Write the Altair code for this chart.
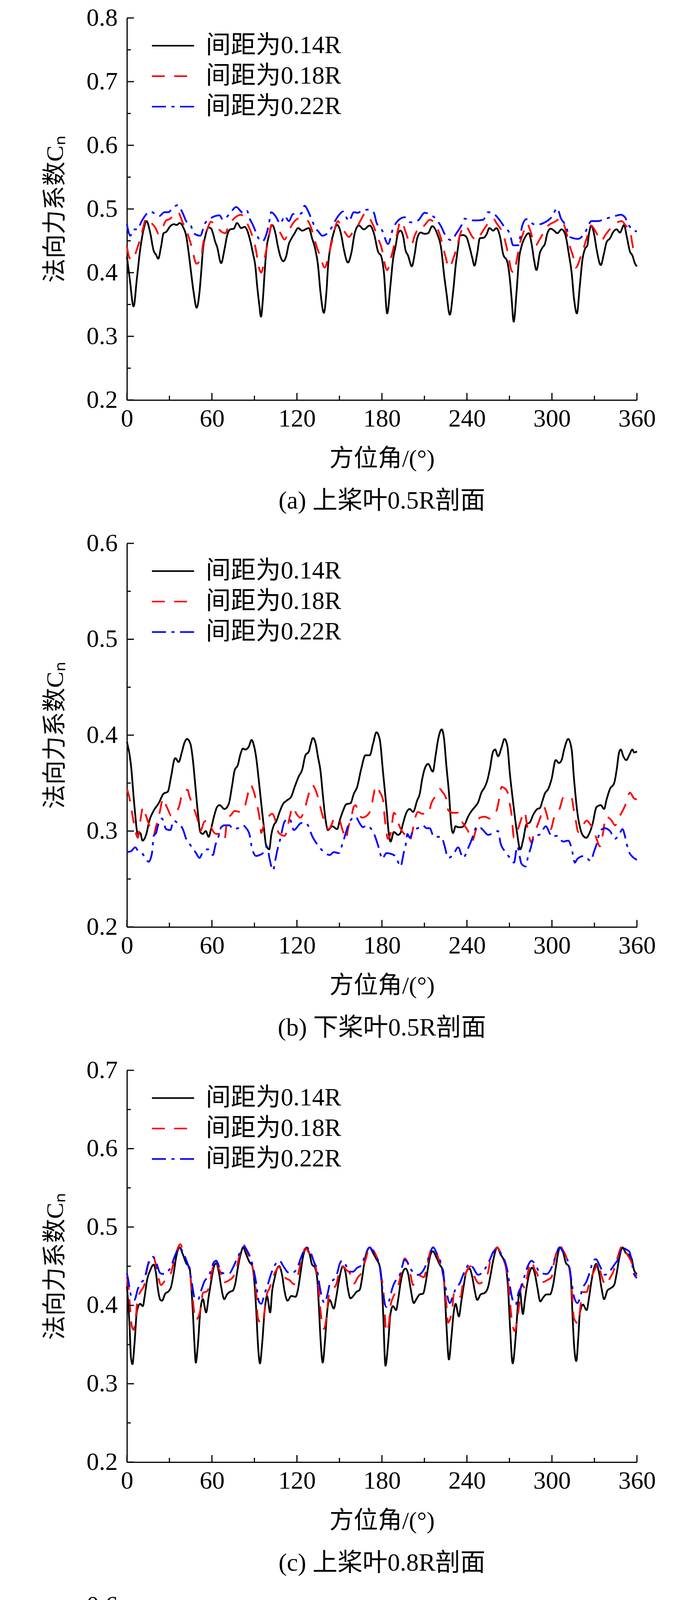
import altair as alt
import pandas as pd

SERIES = ["间距为0.14R", "间距为0.18R", "间距为0.22R"]
COLORS = ["#000000", "#ff0000", "#0000ff"]
DASHES = [[1, 0], [33, 24], [36, 14, 8, 14]]

X_MAJOR = [0, 60, 120, 180, 240, 300, 360]
X_MINOR = [30, 90, 150, 210, 270, 330]

# ---------------- (a) upper blade 0.5R ----------------
A_014 = [(0,0.425),(2,0.39),(4.7,0.347),(7,0.39),(9.4,0.437),(11.8,0.468),(13.8,0.481),(16.5,0.462),(18.8,0.435),(20.6,0.428),(22.1,0.422),(24.1,0.441),(25.9,0.462),(27.7,0.464),(30.6,0.473),(33,0.476),(35.3,0.475),(37.1,0.478),(40,0.47),(41.8,0.458),(43.6,0.431),(45.3,0.40),(47.1,0.369),(49.2,0.345),(51.2,0.369),(52.4,0.40),(53.6,0.435),(55.4,0.458),(57.7,0.471),(59.5,0.469),(60.7,0.462),(62.4,0.448),(63.6,0.441),(66.5,0.415),(68.9,0.437),(70.7,0.458),(73,0.468),(75.4,0.469),(77.7,0.478),(80.7,0.47),(83,0.472),(84.8,0.467),(86.6,0.454),(88.9,0.431),(90.7,0.409),(91.9,0.38),(93.4,0.35),(94.6,0.331),(96,0.359),(97.2,0.40),(98.4,0.435),(100.2,0.458),(102.5,0.475),(104.8,0.462),(106.6,0.441),(108.4,0.425),(110.4,0.418),(112.3,0.425),(114.3,0.445),(116,0.453),(118.4,0.462),(120.8,0.47),(123.7,0.466),(128.4,0.47),(130.7,0.454),(133.1,0.435),(134.9,0.411),(136.6,0.37),(139,0.337),(140.8,0.369),(142,0.411),(143.7,0.441),(145.5,0.459),(148.4,0.475),(151.4,0.458),(153.1,0.437),(156,0.416),(158.4,0.431),(160.8,0.462),(163.7,0.474),(167.2,0.468),(171.4,0.474),(174.3,0.462),(177.3,0.433),(179.6,0.425),(181.4,0.40),(183.7,0.336),(186,0.38),(187.8,0.42),(189.6,0.441),(191.4,0.462),(193.1,0.466),(194.9,0.458),(196.7,0.435),(198.4,0.427),(201.1,0.41),(203.1,0.429),(204.9,0.454),(207.3,0.463),(210.2,0.461),(212.6,0.462),(215.5,0.473),(219,0.461),(222,0.435),(223.7,0.40),(225.5,0.369),(227.9,0.334),(230.2,0.369),(232,0.41),(233.8,0.441),(235,0.458),(237.3,0.459),(239.6,0.456),(242,0.439),(243.8,0.423),(245.3,0.411),(247.3,0.431),(249.1,0.454),(252,0.455),(253.8,0.46),(255.9,0.47),(258.5,0.466),(260.8,0.47),(263.2,0.458),(265.6,0.429),(268.5,0.417),(270.3,0.39),(271.5,0.36),(273,0.323),(275,0.369),(276.7,0.42),(278.5,0.441),(280.9,0.455),(283.6,0.462),(285.6,0.446),(287.3,0.421),(289.1,0.404),(291.5,0.431),(293.2,0.439),(295,0.445),(296.8,0.462),(299.1,0.469),(301.5,0.466),(303.8,0.462),(306.8,0.468),(309.1,0.462),(312.1,0.427),(313.9,0.40),(315.6,0.359),(317.6,0.336),(319.7,0.38),(321.5,0.42),(323.3,0.437),(325,0.443),(326.2,0.462),(327.8,0.474),(329.8,0.46),(331.5,0.437),(334.5,0.412),(336.8,0.431),(338.6,0.448),(341,0.454),(343.3,0.464),(345.6,0.468),(348,0.463),(350.9,0.475),(352.7,0.458),(355.1,0.433),(356.8,0.427),(358.5,0.415),(360,0.41)]
A_018 = [(0,0.441),(1.8,0.423),(4,0.42),(6.5,0.433),(8.8,0.449),(11.2,0.468),(13.5,0.485),(17.7,0.477),(20,0.471),(22.4,0.461),(25.2,0.471),(27.7,0.482),(30,0.484),(35.9,0.495),(39.5,0.478),(43.6,0.456),(45.9,0.439),(48.3,0.417),(49,0.414),(52.4,0.423),(53.6,0.443),(55.9,0.462),(59.5,0.48),(61.8,0.474),(64.2,0.472),(65.4,0.467),(69.5,0.462),(71.8,0.474),(73.6,0.48),(80.7,0.491),(83,0.485),(86,0.472),(89,0.454),(91.3,0.433),(92.4,0.417),(94.8,0.40),(97.2,0.423),(98.9,0.441),(100.7,0.462),(101.9,0.475),(105.4,0.47),(107.2,0.466),(108.4,0.462),(111.3,0.452),(114.9,0.469),(121.3,0.485),(125.4,0.484),(127.8,0.481),(131.3,0.462),(133.6,0.443),(136.6,0.425),(139.6,0.408),(142.5,0.429),(144.3,0.445),(146.6,0.468),(149,0.481),(151.4,0.47),(153.7,0.464),(156.7,0.456),(159,0.462),(163.1,0.474),(164.9,0.482),(168.4,0.493),(171.4,0.485),(174.3,0.472),(177.2,0.454),(180.2,0.435),(181.4,0.42),(183.7,0.404),(186.6,0.425),(189,0.446),(190.8,0.462),(193.1,0.481),(194.9,0.476),(196.7,0.464),(200.8,0.444),(203.1,0.458),(207.8,0.474),(209,0.473),(213.7,0.483),(221.4,0.456),(222.6,0.445),(224.9,0.425),(227.3,0.408),(230.8,0.425),(233.2,0.443),(235.5,0.462),(238.5,0.474),(244.3,0.455),(246.7,0.451),(249.7,0.46),(253.8,0.474),(258.5,0.485),(260.8,0.478),(266.2,0.456),(269.1,0.429),(271.5,0.403),(273.2,0.40),(275,0.418),(277.3,0.445),(279.7,0.462),(282.6,0.477),(284.4,0.468),(288.5,0.443),(291.5,0.453),(297.4,0.474),(302.1,0.48),(306.2,0.485),(310.3,0.462),(312.7,0.441),(315,0.425),(316.8,0.408),(320.3,0.425),(322.7,0.441),(325.6,0.462),(327.4,0.474),(331.5,0.462),(334.5,0.45),(338.6,0.462),(343.3,0.474),(349.2,0.481),(352.1,0.474),(355.1,0.466),(356.8,0.445),(358,0.433),(360,0.435)]
A_022 = [(0,0.476),(2.4,0.458),(4.7,0.468),(7.7,0.468),(10,0.479),(12.4,0.488),(16.5,0.496),(22.9,0.489),(26.5,0.495),(29.4,0.495),(31,0.498),(35.7,0.506),(39.5,0.493),(41.8,0.481),(44.8,0.476),(47.1,0.462),(51.8,0.458),(54.8,0.476),(59.5,0.486),(65.4,0.49),(67.7,0.483),(72.4,0.492),(77.1,0.503),(82.4,0.493),(84.8,0.497),(86.6,0.485),(88.9,0.475),(91.3,0.462),(92.4,0.456),(95.4,0.449),(98.4,0.46),(100.1,0.475),(101.9,0.495),(104.8,0.489),(108.4,0.477),(111.3,0.489),(114.3,0.481),(117.2,0.492),(123.1,0.493),(125.4,0.505),(127.8,0.497),(130.1,0.485),(133.1,0.47),(135.4,0.464),(137.8,0.458),(143.1,0.466),(146.6,0.48),(150.2,0.492),(152.5,0.496),(156.7,0.481),(160.2,0.495),(163.1,0.494),(165.4,0.497),(170.2,0.499),(174.3,0.494),(176.1,0.479),(180.2,0.466),(184.3,0.445),(187.8,0.469),(192.5,0.484),(196.1,0.487),(200.2,0.479),(205.5,0.482),(210.2,0.494),(214.3,0.491),(217.9,0.485),(221.4,0.474),(225.5,0.456),(229,0.451),(232.6,0.462),(236.1,0.474),(238.5,0.485),(240.8,0.483),(246.1,0.482),(251.4,0.483),(255,0.495),(258.5,0.493),(262.6,0.484),(266.7,0.471),(270.3,0.461),(272.6,0.443),(276.1,0.443),(279.1,0.474),(282,0.484),(285,0.479),(288.5,0.475),(295,0.479),(299.7,0.487),(303.8,0.501),(306.2,0.486),(309.7,0.474),(312.7,0.456),(318.6,0.453),(323.3,0.463),(328,0.481),(332.7,0.481),(336.8,0.484),(343.3,0.488),(348.6,0.491),(351.5,0.487),(353.9,0.476),(357.7,0.466),(360,0.465)]

# ---------------- (b) lower blade 0.5R ----------------
B_014 = [(0,0.393),(2.9,0.368),(5.3,0.326),(7.7,0.297),(9.4,0.298),(11,0.29),(13.5,0.296),(15.9,0.311),(18.8,0.321),(22.4,0.329),(25.9,0.339),(28.8,0.341),(31.2,0.357),(33.6,0.375),(34.2,0.376),(36.5,0.372),(38.9,0.383),(40.6,0.392),(42.4,0.396),(44.8,0.391),(46.5,0.375),(48.3,0.347),(50.1,0.319),(51.8,0.299),(53.6,0.297),(55.6,0.3),(57.7,0.294),(59.5,0.303),(61.8,0.317),(63.6,0.325),(65.4,0.327),(68.9,0.323),(71.8,0.328),(74.2,0.347),(76,0.363),(78.3,0.369),(80.1,0.38),(81.9,0.386),(83.6,0.385),(86,0.388),(88,0.395),(89.5,0.39),(91.3,0.376),(93,0.354),(94.8,0.329),(96.6,0.305),(98.3,0.285),(100.5,0.281),(101.9,0.296),(103.7,0.306),(105.4,0.31),(107.8,0.32),(110.1,0.328),(113,0.332),(116,0.336),(118.4,0.346),(121.3,0.357),(123.7,0.364),(126,0.379),(128.4,0.383),(129.6,0.39),(131.3,0.397),(133.1,0.392),(134.9,0.377),(136.6,0.363),(138.4,0.336),(140.2,0.312),(141.9,0.301),(144.9,0.305),(148.4,0.302),(150.2,0.311),(152.5,0.321),(154.9,0.328),(157.8,0.329),(160.2,0.339),(162.5,0.346),(165.4,0.365),(168.4,0.379),(171.4,0.379),(173.7,0.391),(176.1,0.403),(178.4,0.396),(180.8,0.361),(183.1,0.326),(185,0.296),(186.1,0.289),(188.4,0.299),(191.4,0.296),(193.1,0.298),(194.9,0.308),(197.2,0.319),(199.6,0.323),(202,0.32),(204.9,0.332),(206.7,0.339),(208.4,0.354),(210.2,0.365),(212.6,0.37),(215.9,0.362),(217.9,0.379),(219.6,0.395),(222.2,0.406),(223.7,0.398),(225.5,0.368),(227.3,0.34),(229,0.305),(230.2,0.298),(232,0.305),(233.8,0.304),(236.1,0.304),(238.5,0.307),(240.8,0.315),(243.8,0.322),(246.1,0.326),(247.9,0.33),(250.2,0.34),(252.6,0.346),(254.4,0.353),(256.1,0.364),(258.5,0.383),(259.9,0.385),(262,0.378),(264.4,0.387),(266.5,0.396),(268.5,0.389),(270.3,0.36),(272.6,0.33),(275,0.302),(277.7,0.281),(279.7,0.291),(282,0.307),(284.4,0.309),(286.8,0.317),(289.7,0.323),(291.5,0.324),(293.2,0.331),(295,0.339),(297.4,0.344),(299.7,0.354),(302.7,0.374),(305,0.371),(306.8,0.374),(308.6,0.385),(311.5,0.396),(313.9,0.385),(315.6,0.354),(318,0.319),(320.3,0.301),(322.7,0.294),(324.2,0.293),(326.2,0.297),(328.6,0.307),(331.5,0.325),(334.5,0.327),(336.8,0.323),(338.6,0.333),(341,0.344),(343.9,0.35),(345.7,0.364),(347.4,0.382),(348.6,0.385),(350.4,0.378),(352.5,0.374),(354.5,0.379),(356.8,0.385),(358,0.382),(360,0.383)]
B_018 = [(0,0.344),(2,0.333),(3.5,0.32),(5.3,0.305),(7.7,0.293),(9.4,0.31),(11.4,0.325),(13,0.318),(15.3,0.308),(18.8,0.296),(20.6,0.305),(22.9,0.318),(25.6,0.334),(27.3,0.328),(29.1,0.322),(31.2,0.316),(33.3,0.317),(37.1,0.327),(39.2,0.34),(42.8,0.343),(44,0.337),(47.1,0.324),(49.5,0.314),(51.8,0.3),(54.8,0.31),(57.7,0.311),(60,0.302),(63,0.297),(65.4,0.297),(68.9,0.291),(70.7,0.311),(73.6,0.317),(76,0.321),(79.5,0.32),(82.4,0.322),(84.8,0.335),(87.2,0.348),(88.9,0.344),(91.9,0.327),(93.6,0.314),(94.8,0.298),(96.6,0.306),(99.5,0.314),(102.5,0.318),(104.2,0.314),(107.2,0.298),(111.3,0.295),(113,0.301),(114.8,0.314),(117.2,0.325),(119.6,0.318),(122.5,0.314),(126,0.326),(128.4,0.339),(130.7,0.348),(132.5,0.345),(134.9,0.335),(137.2,0.321),(139.6,0.309),(142.5,0.302),(144.5,0.307),(146.6,0.314),(150.2,0.311),(151.4,0.305),(154.9,0.292),(156,0.302),(158.4,0.314),(160,0.325),(161.4,0.327),(163.7,0.318),(166.1,0.314),(170,0.317),(172,0.322),(174.3,0.339),(175.5,0.347),(178.4,0.341),(180.8,0.332),(181.9,0.315),(184.3,0.292),(186.5,0.3),(188.4,0.319),(190,0.316),(191.4,0.309),(193.7,0.301),(197,0.295),(199.6,0.29),(201.6,0.3),(203.7,0.315),(205.5,0.32),(208.4,0.318),(212.6,0.318),(214.9,0.329),(218.5,0.338),(220.8,0.344),(222.6,0.341),(225.5,0.333),(226.7,0.322),(230,0.319),(233.8,0.319),(236.1,0.311),(240.8,0.3),(243.8,0.29),(246.1,0.3),(249.1,0.314),(252.6,0.315),(256.1,0.313),(260.8,0.321),(263.2,0.337),(264.4,0.346),(266.3,0.345),(268.5,0.341),(269.7,0.332),(271.5,0.317),(273.2,0.293),(274.9,0.297),(276.7,0.305),(280.9,0.32),(282,0.31),(285.6,0.288),(287,0.295),(290.3,0.308),(293.2,0.32),(294.4,0.325),(296.2,0.318),(299.1,0.302),(301.5,0.314),(305.6,0.324),(308,0.335),(311,0.336),(313.9,0.335),(315.1,0.325),(316.8,0.311),(318.6,0.299),(321.5,0.305),(324.5,0.311),(327,0.307),(329.2,0.302),(331.5,0.292),(333.9,0.284),(336.2,0.299),(338,0.315),(342.1,0.311),(344.5,0.306),(348,0.316),(351.5,0.326),(355.1,0.34),(358,0.334),(360,0.333)]
B_022 = [(0,0.278),(2.9,0.279),(5.9,0.283),(8,0.279),(10.6,0.277),(13,0.272),(15.3,0.268),(17.7,0.277),(18.9,0.295),(20.6,0.298),(21.8,0.305),(24.7,0.313),(27.7,0.302),(30.6,0.301),(33,0.311),(35.9,0.308),(39.5,0.302),(41.8,0.292),(44,0.287),(46.5,0.282),(48.8,0.277),(51.2,0.272),(53.6,0.278),(57.1,0.281),(60.7,0.275),(62.4,0.285),(64.8,0.295),(66.5,0.304),(68.9,0.306),(72.4,0.306),(74.8,0.302),(78.3,0.303),(81.9,0.306),(84.2,0.303),(86.6,0.296),(88.3,0.282),(91.3,0.274),(93.6,0.275),(96,0.277),(98.9,0.284),(100.7,0.271),(103.1,0.259),(104.8,0.27),(106,0.279),(107.8,0.289),(109,0.297),(111.3,0.31),(114.8,0.313),(117.8,0.301),(122.5,0.308),(125.4,0.309),(127.8,0.306),(130.7,0.295),(134.9,0.285),(138.4,0.279),(143.1,0.275),(146,0.278),(149.6,0.277),(152,0.286),(154.9,0.3),(157.3,0.31),(161.4,0.315),(164.3,0.308),(166.7,0.304),(169,0.306),(172,0.303),(175,0.295),(177.9,0.282),(180.2,0.271),(183.1,0.277),(188.4,0.275),(190.2,0.272),(193.1,0.263),(195.5,0.278),(196.7,0.285),(198,0.297),(199.6,0.293),(202,0.3),(206.7,0.304),(209,0.306),(211.4,0.303),(213.7,0.303),(216.7,0.294),(222,0.294),(224.3,0.284),(226.7,0.272),(230.2,0.275),(233.8,0.283),(237.3,0.272),(240.8,0.282),(243.8,0.293),(245.5,0.301),(247.9,0.305),(251.4,0.301),(255,0.296),(258.5,0.298),(262,0.3),(263.8,0.287),(267.3,0.278),(271.5,0.27),(273.2,0.267),(275.5,0.284),(278.5,0.266),(281.5,0.263),(283.2,0.274),(285,0.282),(286.8,0.292),(289.1,0.295),(292,0.297),(295.6,0.305),(298.6,0.297),(299.7,0.294),(303.3,0.295),(308,0.289),(311.5,0.29),(313.9,0.282),(316.2,0.267),(317.9,0.271),(322.7,0.274),(327.4,0.269),(329.8,0.279),(332.1,0.289),(333.9,0.3),(337.4,0.303),(341,0.3),(344.5,0.292),(348,0.298),(349.8,0.302),(351.5,0.295),(352.7,0.287),(354.5,0.278),(357,0.273),(360,0.27)]

# ---------------- (c) upper blade 0.8R ----------------
C_014 = [(0,0.424),(1.8,0.376),(2.9,0.333),(3.9,0.325),(5.3,0.35),(7.1,0.393),(9.4,0.402),(11.2,0.399),(12.4,0.41),(14.1,0.431),(16.5,0.445),(18.8,0.452),(20.6,0.44),(21.8,0.422),(23.6,0.407),(24.7,0.406),(27.1,0.415),(29.4,0.418),(31.2,0.424),(33,0.441),(34.7,0.461),(37.1,0.474),(39.5,0.465),(41.8,0.454),(44.2,0.448),(45.3,0.427),(46.5,0.393),(47.7,0.35),(48.6,0.327),(50.1,0.35),(51.8,0.393),(53.6,0.408),(55.9,0.391),(57.7,0.411),(59.5,0.431),(61.2,0.448),(63,0.454),(64.8,0.443),(66.5,0.424),(68.7,0.408),(70.7,0.414),(72.4,0.417),(74.8,0.419),(76.6,0.429),(78.3,0.448),(80.1,0.464),(82.1,0.474),(84.2,0.465),(86.6,0.455),(88.3,0.451),(90.1,0.427),(91.3,0.393),(92.5,0.35),(93.9,0.326),(95.4,0.35),(97.2,0.393),(98.9,0.412),(101.1,0.391),(102.5,0.418),(104.3,0.435),(106,0.447),(107.5,0.45),(109.5,0.439),(111.3,0.418),(113.4,0.406),(116,0.412),(119,0.411),(120.7,0.42),(122.5,0.441),(124.2,0.461),(126.6,0.473),(129,0.465),(130.7,0.452),(132.5,0.449),(134.3,0.434),(135.4,0.402),(136.6,0.359),(138.2,0.327),(139.6,0.35),(141.4,0.393),(143.1,0.407),(146,0.396),(147.8,0.411),(149.6,0.431),(152.5,0.45),(154.3,0.442),(155.9,0.422),(157.8,0.409),(160.2,0.413),(161.9,0.417),(164.3,0.42),(166.1,0.436),(167.8,0.457),(171.4,0.474),(173.7,0.467),(176.1,0.459),(178.4,0.45),(179.6,0.435),(180.8,0.393),(182.5,0.323),(184.3,0.35),(186.1,0.39),(187.8,0.399),(190,0.394),(191.4,0.407),(193.1,0.428),(194.9,0.443),(196.7,0.447),(198.4,0.441),(200.2,0.422),(202.5,0.403),(204.3,0.408),(206.7,0.414),(209,0.415),(210.8,0.428),(212.6,0.449),(214.3,0.465),(215.9,0.469),(218.5,0.461),(220.8,0.452),(223.2,0.444),(224.3,0.419),(225.5,0.376),(227.3,0.331),(229,0.359),(230.8,0.393),(232,0.402),(234.3,0.386),(236.1,0.406),(237.9,0.427),(239.6,0.443),(241.8,0.447),(243.8,0.436),(245.5,0.419),(247.3,0.407),(249.7,0.414),(252.6,0.416),(255,0.424),(256.7,0.439),(258.5,0.457),(261.4,0.474),(263.8,0.465),(266.2,0.457),(267.9,0.444),(269.1,0.42),(270.3,0.377),(272.3,0.326),(274.4,0.36),(276.2,0.405),(277.3,0.419),(279.5,0.389),(280.9,0.407),(282.6,0.428),(284.4,0.443),(285.9,0.448),(288,0.44),(289.7,0.423),(291.8,0.405),(293.8,0.41),(296.2,0.414),(298.6,0.414),(300.9,0.427),(302.7,0.448),(304.4,0.467),(305.6,0.474),(308,0.467),(309.7,0.455),(312.1,0.449),(313.3,0.436),(314.4,0.393),(315.6,0.35),(317.2,0.329),(318.6,0.359),(319.7,0.39),(321.9,0.401),(324.5,0.394),(326.2,0.41),(327.9,0.431),(331.3,0.453),(333.3,0.441),(335,0.422),(336.8,0.408),(339.2,0.419),(341.5,0.422),(343.9,0.426),(345.6,0.44),(347.4,0.459),(349.8,0.474),(352.1,0.467),(354.5,0.464),(356.2,0.46),(358,0.445),(360,0.44)]
C_018 = [(0,0.436),(1.2,0.422),(2.4,0.393),(3.5,0.373),(4.7,0.369),(5.9,0.379),(7.7,0.41),(9.4,0.417),(12.4,0.427),(14.1,0.445),(15.9,0.459),(18.3,0.464),(20,0.455),(21.8,0.439),(24.1,0.426),(27,0.432),(30.6,0.439),(32.9,0.454),(35.3,0.47),(37.7,0.478),(40,0.467),(42.4,0.455),(44.2,0.445),(45.9,0.419),(47.1,0.397),(48.3,0.381),(50.6,0.386),(52.4,0.4),(53.6,0.416),(56.5,0.418),(58.3,0.426),(60,0.443),(61.8,0.455),(63,0.457),(64.8,0.447),(66.5,0.44),(67.7,0.429),(72,0.432),(74.8,0.436),(77.1,0.445),(79.5,0.464),(82.4,0.477),(84.8,0.468),(87.7,0.456),(89.5,0.441),(91.3,0.414),(92.5,0.383),(95.4,0.376),(97.2,0.393),(98.9,0.415),(100.7,0.422),(103.1,0.436),(105.4,0.445),(107.2,0.449),(109,0.445),(111.3,0.436),(115,0.432),(117.8,0.427),(120.1,0.434),(121.9,0.448),(123.7,0.462),(126,0.473),(129,0.465),(131.3,0.457),(133.7,0.445),(135.4,0.419),(136.6,0.394),(139,0.37),(140.8,0.384),(142.5,0.412),(145,0.42),(147.8,0.427),(150.2,0.445),(152.5,0.45),(154.9,0.445),(156.7,0.443),(160.2,0.428),(163.1,0.436),(166,0.443),(168.4,0.458),(171.4,0.474),(175,0.467),(177.3,0.457),(179.6,0.436),(181,0.42),(181.9,0.393),(183.1,0.366),(184.9,0.376),(186.1,0.4),(187.8,0.41),(190.2,0.419),(192.5,0.432),(194.3,0.449),(196.1,0.46),(198.4,0.453),(200.2,0.439),(202,0.426),(205.5,0.439),(209.6,0.436),(211.9,0.451),(213.7,0.466),(216.1,0.474),(218.5,0.467),(220.8,0.455),(223.2,0.441),(224.3,0.422),(225.5,0.401),(226.7,0.378),(228.5,0.385),(229.6,0.395),(230.8,0.415),(232.6,0.418),(233.8,0.415),(235.5,0.411),(237.3,0.43),(239.1,0.44),(240.8,0.447),(242.6,0.45),(244.4,0.442),(245.5,0.436),(249,0.428),(251.4,0.431),(255,0.443),(256.7,0.46),(258.5,0.467),(261.4,0.474),(263.8,0.467),(266.2,0.458),(267.9,0.445),(269.7,0.419),(271.5,0.384),(273.8,0.367),(275.6,0.384),(277.3,0.407),(278.5,0.427),(279.7,0.425),(280.9,0.422),(282.6,0.438),(284.4,0.452),(285.6,0.456),(288,0.445),(289.7,0.44),(291.5,0.429),(297.4,0.433),(299.7,0.436),(301.5,0.455),(303.3,0.468),(305.6,0.476),(307.9,0.47),(310.3,0.461),(312.1,0.449),(313.9,0.422),(315.6,0.383),(318.6,0.377),(319.7,0.392),(321.5,0.417),(324.5,0.417),(326.2,0.427),(327.9,0.436),(330.3,0.446),(332.7,0.454),(334.5,0.441),(338,0.426),(341,0.435),(343.3,0.443),(345.6,0.457),(349.8,0.476),(352.1,0.468),(354.5,0.461),(356.2,0.455),(357.4,0.446),(360,0.438)]
C_022 = [(0,0.441),(1.2,0.43),(2.4,0.416),(3.5,0.41),(5.3,0.407),(7.7,0.421),(10,0.429),(12.4,0.434),(14.7,0.451),(16.5,0.458),(18.3,0.462),(20.6,0.455),(23.6,0.441),(26.5,0.44),(28.8,0.443),(31.2,0.45),(33.6,0.462),(35.3,0.469),(37.1,0.474),(39.5,0.468),(41.8,0.458),(44.2,0.445),(45.9,0.428),(47.7,0.41),(50.1,0.407),(52.4,0.419),(54.8,0.431),(57.1,0.436),(59.5,0.445),(61.3,0.455),(63,0.457),(65.4,0.448),(67.7,0.441),(72.4,0.441),(74.8,0.448),(78.3,0.462),(80.7,0.47),(82.4,0.475),(85.4,0.468),(87.7,0.458),(89.5,0.445),(91.3,0.428),(93.1,0.405),(94.8,0.402),(97.2,0.415),(99.5,0.427),(101.9,0.441),(104.3,0.451),(107.8,0.457),(110.1,0.451),(113.1,0.443),(115.4,0.441),(118.4,0.443),(120.7,0.45),(123.1,0.462),(126.6,0.474),(129.6,0.468),(131.9,0.456),(134.3,0.445),(136.1,0.424),(137.8,0.409),(139.6,0.403),(141.4,0.413),(143.7,0.43),(146,0.433),(148.4,0.441),(150.2,0.453),(152,0.457),(154.9,0.45),(156.7,0.443),(159.6,0.443),(162.5,0.448),(165.4,0.451),(167.8,0.462),(171.4,0.474),(173.7,0.469),(176.1,0.462),(178.4,0.45),(180.6,0.418),(183.1,0.398),(185.4,0.408),(187.2,0.421),(190.2,0.433),(192,0.436),(193.7,0.446),(196.1,0.458),(198.4,0.454),(200.8,0.445),(205.5,0.439),(209,0.444),(211.4,0.453),(213.7,0.465),(216.1,0.474),(219,0.465),(221.4,0.455),(223.2,0.439),(225.5,0.418),(227.9,0.403),(230.2,0.413),(232.6,0.423),(234.9,0.428),(237.3,0.439),(239.6,0.448),(242,0.453),(244.4,0.448),(247.9,0.439),(250.2,0.441),(253.2,0.448),(256.1,0.458),(258.5,0.468),(261.4,0.472),(264.4,0.465),(266.7,0.457),(268.5,0.445),(270.3,0.425),(272.1,0.408),(274.4,0.401),(276.2,0.415),(279.1,0.427),(280.9,0.439),(283.2,0.451),(285.6,0.457),(288.5,0.451),(291.5,0.442),(296.2,0.44),(299.7,0.448),(302.1,0.46),(305.4,0.474),(307.9,0.468),(310.3,0.461),(312.1,0.451),(313.9,0.43),(315.6,0.411),(318,0.403),(319.7,0.409),(321.5,0.421),(324.5,0.431),(326.8,0.443),(329.2,0.457),(331,0.459),(333.9,0.45),(337.4,0.439),(340.9,0.444),(344.5,0.453),(346.8,0.459),(349.8,0.474),(352.7,0.471),(354.5,0.469),(356.2,0.458),(357.7,0.441),(360,0.435)]

# ---------------- (d) lower blade 0.8R ----------------
D_014 = [(0,0.32),(1.8,0.289),(3.5,0.238),(5.3,0.207),(7.7,0.197),(9.4,0.203),(10.9,0.201),(12.4,0.217),(14.1,0.238),(16.3,0.249),(18.3,0.235),(20,0.216),(21.8,0.201),(24.1,0.194),(26.5,0.207),(28.3,0.229),(30,0.255),(31.8,0.281),(33.6,0.303),(35.3,0.332),(36.9,0.347),(38.5,0.354),(40.6,0.345),(42.4,0.334),(44.2,0.322),(45.9,0.301),(47.7,0.263),(49.5,0.22),(51.2,0.198),(53.2,0.197),(55.9,0.202),(57.7,0.206),(59.5,0.221),(61.2,0.246),(63,0.235),(64.8,0.218),(67.7,0.209),(69.5,0.215),(71.3,0.234),(73,0.255),(74.8,0.272),(76.6,0.289),(78.3,0.306),(80.1,0.332),(81.9,0.351),(83.3,0.359),(85.4,0.349),(87.7,0.332),(90.1,0.315),(91.9,0.289),(93.6,0.238),(95.4,0.2),(97.2,0.194),(98.4,0.19),(99.5,0.181),(100.7,0.195),(101.9,0.212),(103.7,0.221),(104.8,0.238),(106,0.244),(107.8,0.238),(109.5,0.212),(111.3,0.195),(112.5,0.194),(114.8,0.2),(116.6,0.212),(118.4,0.238),(120.1,0.263),(121.9,0.289),(123.7,0.318),(125.4,0.34),(128.4,0.35),(130.1,0.344),(131.9,0.327),(133.6,0.313),(135.4,0.281),(137.2,0.238),(139,0.203),(140.8,0.199),(144.3,0.195),(146,0.212),(147.8,0.229),(150.8,0.247),(152.5,0.238),(154.3,0.217),(157.2,0.207),(159,0.214),(160.8,0.229),(162.5,0.255),(164.3,0.281),(166.1,0.306),(167.8,0.328),(169.6,0.345),(172.9,0.359),(174.9,0.349),(177.3,0.332),(179.6,0.306),(181.4,0.255),(183.1,0.226),(184.3,0.204),(186.1,0.193),(187.8,0.196),(189.6,0.192),(191.4,0.212),(193.1,0.229),(195.5,0.242),(197.2,0.229),(199,0.203),(201.4,0.192),(203.7,0.2),(205.5,0.221),(207.3,0.246),(209,0.272),(210.8,0.298),(212.6,0.323),(214.9,0.341),(217.5,0.348),(219.6,0.339),(221.4,0.327),(223.2,0.315),(224.9,0.289),(226.7,0.246),(228.5,0.203),(229.9,0.187),(232,0.192),(233.8,0.191),(235,0.203),(236.7,0.224),(239.6,0.244),(241.4,0.233),(243.2,0.217),(246.5,0.208),(248.5,0.214),(250.2,0.229),(252,0.255),(253.8,0.281),(256.1,0.306),(258.5,0.332),(260.3,0.348),(262,0.351),(263.8,0.344),(266.2,0.332),(268.5,0.315),(270.3,0.281),(272.1,0.238),(273.8,0.204),(275.2,0.189),(276.7,0.185),(277.9,0.175),(279.7,0.199),(281.5,0.213),(283.2,0.23),(284.6,0.238),(286.8,0.224),(288.5,0.204),(290.3,0.196),(292.7,0.2),(295,0.212),(296.8,0.229),(298.6,0.255),(300.3,0.281),(302.1,0.306),(303.8,0.335),(307,0.348),(309.1,0.341),(310.9,0.324),(312.7,0.31),(315,0.281),(316.8,0.238),(318.6,0.204),(320.3,0.189),(321.9,0.187),(323.5,0.183),(325.6,0.203),(327.4,0.224),(329.8,0.239),(331.5,0.226),(333.9,0.207),(336.5,0.201),(338.6,0.21),(340.4,0.229),(342.1,0.258),(343.9,0.281),(345.6,0.306),(347.4,0.335),(350.9,0.353),(353.3,0.344),(355.1,0.332),(356.8,0.315),(358,0.306),(360,0.305)]
D_018 = [(0,0.326),(1.2,0.313),(2.9,0.286),(4.7,0.264),(6.5,0.25),(8.8,0.242),(10.6,0.256),(12.9,0.272),(14.7,0.288),(17,0.291),(18.8,0.286),(21.2,0.277),(24.1,0.26),(26.5,0.256),(28.8,0.264),(31.8,0.281),(33.6,0.293),(37.1,0.301),(41.2,0.304),(44,0.303),(45.9,0.296),(47.7,0.279),(48.9,0.265),(50.6,0.242),(51.2,0.235),(53,0.238),(54.8,0.245),(56.5,0.255),(58.3,0.269),(59.5,0.279),(62,0.275),(66.5,0.264),(69.5,0.261),(72.4,0.267),(74.8,0.277),(76.6,0.294),(78.3,0.306),(80.7,0.318),(83.6,0.33),(86,0.323),(87.7,0.311),(90.1,0.299),(92.5,0.285),(94.2,0.269),(96,0.241),(98.9,0.225),(100.7,0.238),(102.5,0.259),(103.7,0.272),(105.4,0.283),(107.2,0.28),(108.4,0.272),(110,0.265),(113.1,0.259),(116,0.258),(118.4,0.259),(120.7,0.269),(123.1,0.282),(125.4,0.289),(127.8,0.301),(130.1,0.31),(132.5,0.303),(134.9,0.294),(137.2,0.279),(139,0.264),(140.8,0.238),(142.5,0.228),(144.3,0.238),(146,0.252),(147.8,0.266),(150.2,0.28),(152.5,0.272),(154.9,0.266),(156.7,0.261),(159.5,0.269),(161.9,0.277),(163.7,0.279),(165.4,0.298),(167.8,0.315),(170.2,0.329),(172,0.343),(174.9,0.339),(177.3,0.324),(179.6,0.317),(181.4,0.295),(183.1,0.269),(184.3,0.238),(186.6,0.224),(188.4,0.229),(189.6,0.238),(190.8,0.255),(192,0.269),(193.7,0.279),(196.1,0.277),(198,0.271),(200.2,0.262),(203.1,0.257),(206.7,0.253),(208.4,0.265),(210.8,0.28),(212.6,0.288),(214.3,0.298),(217.3,0.31),(220.8,0.317),(223.2,0.319),(224.9,0.304),(226.1,0.285),(227.3,0.264),(229,0.238),(231.2,0.217),(232.6,0.23),(233.8,0.241),(235.5,0.255),(237.3,0.269),(239.1,0.275),(240.8,0.269),(243,0.261),(245.5,0.253),(248.5,0.25),(251.4,0.257),(253.8,0.272),(255,0.287),(257.3,0.306),(259.7,0.318),(261.9,0.328),(264.4,0.333),(267.3,0.331),(269.1,0.318),(270.9,0.298),(272.6,0.276),(274.4,0.25),(276.2,0.233),(278.8,0.224),(280.3,0.24),(282,0.264),(283.2,0.272),(285.6,0.274),(287.3,0.267),(288.5,0.259),(292,0.252),(295.6,0.251),(298,0.258),(299.1,0.265),(300.9,0.28),(303.3,0.292),(305,0.296),(308,0.3),(312,0.301),(315,0.293),(316.8,0.273),(318.2,0.256),(320.9,0.228),(322.9,0.238),(324.7,0.256),(326.8,0.274),(328.6,0.281),(330.3,0.276),(334,0.264),(336.2,0.253),(338,0.247),(340.3,0.256),(342.1,0.268),(343.9,0.283),(345.9,0.297),(348.3,0.31),(350.4,0.324),(353,0.329),(356.2,0.33),(357.7,0.322),(360,0.318)]
D_022 = [(0,0.336),(1.2,0.324),(2.9,0.309),(4.7,0.293),(7.1,0.279),(9.4,0.284),(11.8,0.286),(14.1,0.296),(16.5,0.313),(18.8,0.311),(21.8,0.31),(24.1,0.306),(26.5,0.303),(28.8,0.315),(31.2,0.334),(33.6,0.35),(35.9,0.357),(38.3,0.353),(40,0.345),(41.8,0.336),(43.6,0.324),(45.3,0.31),(47.1,0.3),(48.9,0.284),(51.2,0.268),(52.4,0.265),(54.8,0.273),(57.1,0.287),(58.9,0.295),(60.7,0.302),(64.2,0.303),(67.7,0.304),(70,0.303),(71.8,0.302),(73.6,0.306),(75.9,0.318),(78.3,0.334),(80.7,0.346),(82.4,0.35),(84.2,0.348),(86,0.345),(87.8,0.338),(90.1,0.327),(91.9,0.313),(93.7,0.298),(95.5,0.281),(97.2,0.269),(98.9,0.255),(100.7,0.272),(102.5,0.281),(104.8,0.285),(107.8,0.288),(111.3,0.29),(113.6,0.296),(116,0.302),(118.4,0.307),(120.1,0.32),(121.9,0.334),(123.7,0.341),(126.6,0.344),(128.9,0.342),(130.7,0.337),(132.5,0.324),(134.9,0.303),(137.2,0.284),(139.5,0.269),(141.9,0.267),(144.3,0.27),(146.6,0.279),(148.4,0.289),(150.2,0.298),(152.5,0.303),(154.9,0.305),(157.2,0.301),(159.6,0.3),(162,0.303),(163.7,0.313),(165.4,0.324),(167.8,0.339),(169.6,0.346),(171.4,0.346),(173.7,0.344),(176.1,0.337),(178.4,0.331),(179.6,0.32),(181.4,0.305),(183.1,0.286),(184.9,0.269),(187.2,0.259),(188.9,0.269),(190.8,0.279),(192.5,0.286),(194.9,0.291),(197.2,0.295),(200.8,0.295),(203.7,0.299),(206.1,0.305),(208.4,0.313),(210.2,0.324),(212,0.338),(213.7,0.343),(216.1,0.34),(217.9,0.333),(219.6,0.324),(221.7,0.319),(223.7,0.314),(225.5,0.302),(227.9,0.28),(229.6,0.268),(233.2,0.262),(234.9,0.276),(236.7,0.293),(238.5,0.3),(240.8,0.303),(244.3,0.298),(246.7,0.295),(249.1,0.293),(251.4,0.296),(253.8,0.31),(256.1,0.324),(258.5,0.332),(260.8,0.337),(263.2,0.339),(265.6,0.337),(267.9,0.332),(269.7,0.324),(271.5,0.307),(273.2,0.29),(275,0.275),(276.7,0.263),(278.5,0.253),(280.3,0.269),(282,0.279),(284.4,0.289),(286.8,0.292),(289.1,0.295),(291.5,0.294),(293.2,0.296),(296.2,0.303),(298,0.308),(299.7,0.32),(301.5,0.331),(303.3,0.336),(305.6,0.338),(308,0.334),(310.3,0.324),(312.7,0.31),(315,0.295),(317.3,0.281),(319.7,0.267),(321.5,0.264),(323.9,0.269),(325.6,0.283),(328,0.297),(330.3,0.308),(332.7,0.31),(335,0.306),(337.4,0.298),(339.2,0.295),(341.5,0.304),(343.3,0.319),(345.6,0.336),(348,0.345),(350.9,0.347),(353.9,0.343),(355.6,0.335),(357.4,0.327),(360,0.32)]

PANELS = [
    {"data": [A_014, A_018, A_022], "ymin": 0.2, "ymax": 0.8, "caption": "(a) 上桨叶0.5R剖面", "h": 978},
    {"data": [B_014, B_018, B_022], "ymin": 0.2, "ymax": 0.6, "caption": "(b) 下桨叶0.5R剖面", "h": 982},
    {"data": [C_014, C_018, C_022], "ymin": 0.2, "ymax": 0.7, "caption": "(c) 上桨叶0.8R剖面", "h": 1003},
    {"data": [D_014, D_018, D_022], "ymin": 0.1, "ymax": 0.6, "caption": "(d) 下桨叶0.8R剖面", "h": 998},
]

SERIF = "Liberation Serif, Noto Sans CJK SC"
FS = 64
W = 1306


def legend():
    return alt.Legend(title=None, orient="none", legendX=62, legendY=40,
                      symbolType="stroke", symbolSize=108 * 108,
                      symbolStrokeWidth=4, labelFontSize=FS,
                      labelFont=SERIF, labelColor="black", labelOffset=28, rowPadding=14,
                      clipHeight=62, padding=0, labelLimit=700)


def make_panel(p):
    h = p["h"]
    rows = []
    for name, pts in zip(SERIES, p["data"]):
        for a, v in pts:
            rows.append({"angle": a, "cn": v, "series": name})
    df = pd.DataFrame(rows)

    nmaj = int(round((p["ymax"] - p["ymin"]) / 0.1))
    y_major = [round(p["ymin"] + 0.1 * i, 2) for i in range(nmaj + 1)]
    y_minor = [round(p["ymin"] + 0.05 + 0.1 * i, 3) for i in range(nmaj)]

    xs = alt.Scale(domain=[0, 360], nice=False, zero=False)
    ys = alt.Scale(domain=[p["ymin"], p["ymax"]], nice=False, zero=False)

    x_enc = alt.X("angle:Q", scale=xs, axis=alt.Axis(
        values=X_MAJOR, title="方位角/(°)", format="d", grid=False, ticks=False,
        domainColor="black", domainWidth=3,
        labelFont="Liberation Serif", labelFontSize=FS, labelColor="black",
        titleFont=SERIF, titleFontSize=FS - 2, titleFontWeight="normal", titleColor="black",
        labelFlush=False, labelOverlap=False,
        labelPadding=16, titlePadding=40))
    y_enc = alt.Y("cn:Q", scale=ys, axis=alt.Axis(
        values=y_major, title="法向力系数Cₙ", format=".1f", grid=False, ticks=False,
        domainColor="black", domainWidth=3,
        labelFont="Liberation Serif", labelFontSize=FS, labelColor="black",
        titleFont=SERIF, titleFontSize=FS - 2, titleFontWeight="normal", titleColor="black",
        labelFlush=False, labelOverlap=False,
        labelPadding=24, titlePadding=48))

    lines = alt.Chart(df).mark_line(strokeWidth=4.5, interpolate="monotone").encode(
        x=x_enc,
        y=y_enc,
        color=alt.Color("series:N", scale=alt.Scale(domain=SERIES, range=COLORS), legend=legend()),
        strokeDash=alt.StrokeDash("series:N", scale=alt.Scale(domain=SERIES, range=DASHES), legend=legend()),
    )

    xmaj = alt.Chart(pd.DataFrame({"angle": X_MAJOR})).mark_rule(color="black", strokeWidth=3).encode(
        x=alt.X("angle:Q", scale=xs), y=alt.value(h), y2=alt.value(h - 18))
    xmin = alt.Chart(pd.DataFrame({"angle": X_MINOR})).mark_rule(color="black", strokeWidth=3).encode(
        x=alt.X("angle:Q", scale=xs), y=alt.value(h), y2=alt.value(h - 11))
    ymaj = alt.Chart(pd.DataFrame({"cn": y_major})).mark_rule(color="black", strokeWidth=3).encode(
        y=alt.Y("cn:Q", scale=ys), x=alt.value(0), x2=alt.value(18))
    ymin = alt.Chart(pd.DataFrame({"cn": y_minor})).mark_rule(color="black", strokeWidth=3).encode(
        y=alt.Y("cn:Q", scale=ys), x=alt.value(0), x2=alt.value(10))

    return alt.layer(lines, xmaj, xmin, ymaj, ymin).properties(
        width=W, height=h,
        title=alt.TitleParams(p["caption"], orient="bottom", anchor="middle",
                              font=SERIF, fontSize=FS, fontWeight="normal", color="black", offset=46),
    )


chart = alt.vconcat(*[make_panel(p) for p in PANELS], spacing=44).resolve_scale(
    color="independent", strokeDash="independent"
).resolve_legend(color="independent", strokeDash="independent").properties(
    padding={"left": 102, "top": 6, "right": 5, "bottom": 5}
).configure_view(
    stroke=None
)

chart.save("out.html", embed_options={"renderer": "svg", "actions": False})
